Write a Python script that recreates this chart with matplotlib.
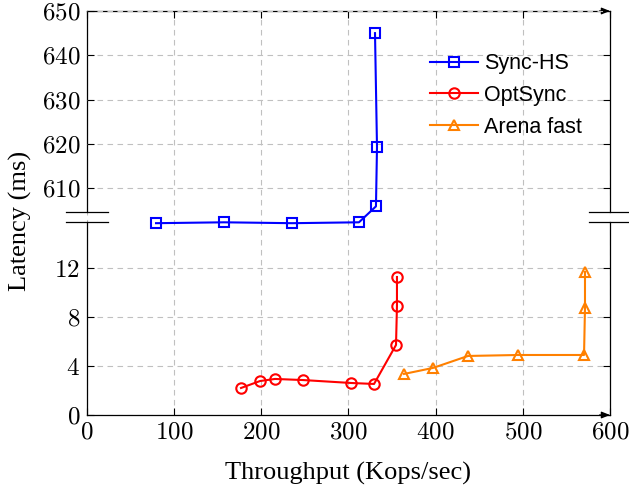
import matplotlib
matplotlib.use("Agg")
import matplotlib.pyplot as plt

# data
sync_x = [79.2, 157.2, 235.2, 312.0, 331.5, 332.7, 330.4]
sync_y = [602.1, 602.3, 602.1, 602.3, 605.9, 619.3, 645.0]

opt_x = [176.7, 198.5, 215.7, 247.8, 302.9, 329.3, 354.5, 355.6, 355.6]
opt_y = [2.21, 2.78, 2.95, 2.86, 2.62, 2.54, 5.73, 8.92, 11.29]

arena_x = [363.7, 396.9, 437.1, 494.5, 570.2, 571.3, 571.3]
arena_y = [3.36, 3.85, 4.83, 4.91, 4.91, 8.76, 11.70]

x_ticks = [0, 100, 200, 300, 400, 500, 600]
low_ticks = [0, 4, 8, 12]
high_ticks = [610, 620, 630, 640, 650]

plt.rcParams['font.family'] = ['Liberation Serif', 'DejaVu Serif']
plt.rcParams['mathtext.fontset'] = 'cm'

fig = plt.figure(figsize=(6.29, 4.95), dpi=100)
ax = fig.add_axes([0.1383, 0.1616, 0.8315, 0.8162])
ax2 = ax.twinx()

grid_kw = dict(color='#c0c0c0', linestyle=(0, (5, 4)), linewidth=0.8)

# lower part (ms)
ax.set_xlim(0, 600)
ax.set_ylim(0, 33.05)
ax.set_xticks(x_ticks, labels=[f'${t}$' for t in x_ticks])
ax.set_yticks(low_ticks, labels=[f'${t}$' for t in low_ticks])
ax.grid(True, **grid_kw)
ax.set_axisbelow(True)

# upper part (ms), same x
ax2.set_ylim(558.8, 650)
ax2.set_yticks(high_ticks, labels=[f'${t}$' for t in high_ticks])
ax2.yaxis.tick_left()
ax2.yaxis.grid(True, **grid_kw)
ax2.set_axisbelow(True)

for a in (ax, ax2):
    a.tick_params(direction='in', length=5, width=0.8, labelsize=18,
                  left=True, right=True, top=True, bottom=True,
                  labelright=False, labeltop=False, pad=5)
    for s in a.spines.values():
        s.set_visible(False)

l1, = ax2.plot(sync_x, sync_y, color='#0000ff', lw=1.5, marker='s', ms=7.5,
               mfc='none', mew=1.5, label='Sync-HS')
l2, = ax.plot(opt_x, opt_y, color='#ff0000', lw=1.5, marker='o', ms=7.5,
              mfc='none', mew=1.5, label='OptSync')
l3, = ax.plot(arena_x, arena_y, color='#ff8000', lw=1.5, marker='^', ms=7.5,
              mfc='none', mew=1.5, label='Arena fast')

# axis frame with break
tr = ax.transAxes
kw = dict(transform=tr, color='black', lw=0.9, clip_on=False)
b_lo, b_hi = 0.4785, 0.5032
ax.plot([0, 0], [0, b_lo], **kw)
ax.plot([0, 0], [b_hi, 1], **kw)
ax.plot([1, 1], [0, b_lo], **kw)
ax.plot([1, 1], [b_hi, 1], **kw)
ax.plot([0, 1], [0, 0], **kw)
ax.plot([0, 1], [1, 1], **kw)
for yb in (b_lo, b_hi):
    ax.plot([-0.04, 0.04], [yb, yb], **kw)
    ax.plot([0.96, 1.04], [yb, yb], **kw)
for yy in (0, 1):
    ax.annotate('', xy=(1.0, yy), xytext=(0.98, yy), xycoords='axes fraction',
                arrowprops=dict(arrowstyle='-|>,head_length=0.5,head_width=0.2',
                                color='black', lw=0.9, shrinkA=0, shrinkB=0))

ax.set_xlabel('Throughput (Kops/sec)', fontsize=19)
ax.xaxis.set_label_coords(0.5, -0.115)
ax.set_ylabel('Latency (ms)', fontsize=19)
ax.yaxis.set_label_coords(-0.105, 0.48)

leg = ax2.legend(handles=[l1, l2, l3], loc='upper left',
                 bbox_to_anchor=(0.64, 0.917), frameon=False, numpoints=1,
                 handlelength=2.2, handletextpad=0.3, labelspacing=0.5,
                 borderaxespad=0,
                 prop={'family': 'Liberation Sans', 'size': 15.5})

fig.savefig('out.png', dpi=100)
